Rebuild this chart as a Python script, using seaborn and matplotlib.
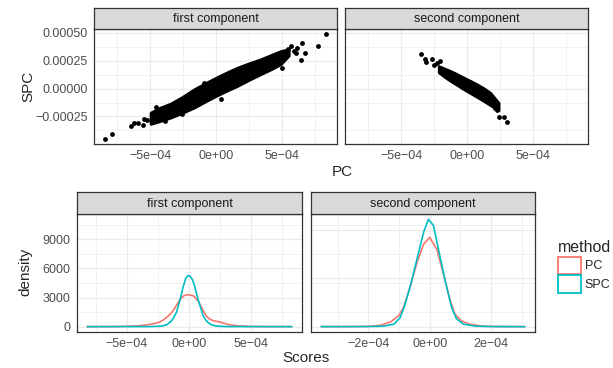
import numpy as np
import pandas as pd
import seaborn as sns
import matplotlib.pyplot as plt
from matplotlib.patches import Patch

# ---- scatter data (PC vs SPC) ----
# first component: outlying points
pc1_x = [-8.41e-4, -7.85e-4, -6.46e-4, -6.21e-4, -5.88e-4, -5.53e-4, -5.45e-4, -5.20e-4,
         -4.57e-4, -2.55e-4, 0.36e-4, 5.02e-4, 5.66e-4, 5.90e-4, 6.16e-4, 6.54e-4,
         6.74e-4, 6.41e-4, 7.75e-4, 8.33e-4, 6.05e-4, 5.45e-4, -0.91e-4, -3.90e-4]
spc1_y = [-4.50e-4, -4.10e-4, -3.36e-4, -3.12e-4, -3.06e-4, -3.30e-4, -2.70e-4, -2.85e-4,
          -1.62e-4, -2.31e-4, -0.96e-4, 1.83e-4, 3.84e-4, 3.39e-4, 3.63e-4, 4.05e-4,
          3.24e-4, 2.58e-4, 3.78e-4, 4.88e-4, 3.20e-4, 3.55e-4, 0.54e-4, -2.95e-4]
# first component: dense band (upper / lower edge)
band1_x = [-4.95e-4, -4.30e-4, -3.43e-4, -2.50e-4, -1.67e-4, -0.80e-4, 0.0, 0.80e-4,
           1.62e-4, 2.50e-4, 3.38e-4, 4.20e-4, 4.90e-4, 5.50e-4]
band1_hi = [-2.16e-4, -1.75e-4, -1.35e-4, -0.72e-4, -0.08e-4, 0.48e-4, 0.97e-4, 1.43e-4,
            1.87e-4, 2.26e-4, 2.62e-4, 3.02e-4, 3.36e-4, 3.52e-4]
band1_lo = [-3.15e-4, -2.92e-4, -2.58e-4, -2.13e-4, -1.69e-4, -1.13e-4, -0.64e-4, -0.18e-4,
            0.26e-4, 0.80e-4, 1.31e-4, 1.77e-4, 2.21e-4, 2.97e-4]

# second component: outlying points
pc2_x = [-3.51e-4, -3.19e-4, -3.08e-4, -2.63e-4, -2.51e-4, -2.26e-4, -2.08e-4,
         2.13e-4, 2.43e-4, 2.80e-4, 3.05e-4, 1.50e-4, 2.25e-4]
spc2_y = [3.08e-4, 2.64e-4, 2.43e-4, 2.70e-4, 2.13e-4, 2.34e-4, 2.48e-4,
          -1.71e-4, -2.55e-4, -2.55e-4, -2.97e-4, -0.36e-4, -1.95e-4]
# second component: dense band
band2_x = [-2.13e-4, -1.70e-4, -1.26e-4, -0.75e-4, -0.25e-4, 0.25e-4, 0.75e-4, 1.25e-4,
           1.75e-4, 2.38e-4]
band2_hi = [2.00e-4, 1.78e-4, 1.57e-4, 1.28e-4, 0.97e-4, 0.68e-4, 0.37e-4, 0.03e-4,
            -0.38e-4, -1.28e-4]
band2_lo = [1.46e-4, 1.07e-4, 0.71e-4, 0.34e-4, -0.04e-4, -0.38e-4, -0.73e-4, -1.08e-4,
            -1.45e-4, -1.93e-4]

# ---- density curves of the scores ----
d1_pc_x = [-8.2e-4, -6e-4, -4.8e-4, -4e-4, -3.4e-4, -2.9e-4, -2.47e-4, -2.1e-4, -1.8e-4,
           -1.5e-4, -1.27e-4, -1.0e-4, -0.73e-4, -0.4e-4, 0.0, 0.4e-4, 0.75e-4, 1.0e-4,
           1.15e-4, 1.4e-4, 1.69e-4, 2.0e-4, 2.5e-4, 2.9e-4, 3.3e-4, 4.0e-4, 4.8e-4, 6e-4, 8.3e-4]
d1_pc_y = [0, 10, 40, 90, 180, 290, 420, 650, 950, 1300, 1650, 2200, 2780, 3200, 3300,
           3150, 2650, 2050, 1650, 1100, 770, 600, 480, 320, 180, 80, 30, 8, 0]
d1_spc_x = [-8.2e-4, -3e-4, -2.2e-4, -1.8e-4, -1.6e-4, -1.4e-4, -1.2e-4, -1.0e-4, -0.73e-4,
            -0.46e-4, -0.25e-4, -0.05e-4, 0.1e-4, 0.3e-4, 0.48e-4, 0.7e-4, 0.89e-4, 1.15e-4,
            1.35e-4, 1.56e-4, 1.8e-4, 2.2e-4, 3e-4, 8.3e-4]
d1_spc_y = [0, 10, 60, 180, 380, 600, 1000, 1474, 2706, 4100, 5000, 5265, 5200, 4800,
            4107, 3000, 2180, 1127, 700, 420, 200, 60, 10, 0]
d2_pc_x = [-3.54e-4, -2.5e-4, -2e-4, -1.6e-4, -1.28e-4, -1.01e-4, -0.85e-4, -0.64e-4,
           -0.42e-4, -0.2e-4, 0.0, 0.23e-4, 0.44e-4, 0.65e-4, 0.82e-4, 1.03e-4, 1.3e-4,
           1.73e-4, 2.2e-4, 3.1e-4]
d2_pc_y = [0, 10, 30, 140, 490, 1125, 2000, 4110, 6570, 8500, 9200, 7970, 5520, 2880,
           1300, 600, 250, 50, 10, 0]
d2_spc_x = [-3.54e-4, -2e-4, -1.5e-4, -1.17e-4, -0.96e-4, -0.8e-4, -0.64e-4, -0.42e-4,
            -0.2e-4, -0.045e-4, 0.12e-4, 0.33e-4, 0.55e-4, 0.71e-4, 0.87e-4, 1.1e-4,
            1.5e-4, 2e-4, 3.1e-4]
d2_spc_y = [0, 10, 50, 250, 950, 2360, 4110, 6920, 9730, 11060, 10430, 7270, 4110,
            2000, 810, 250, 50, 10, 0]

components = ["first component", "second component"]
methods = ["PC", "SPC"]
colors = {"PC": "#F8766D", "SPC": "#00BFC4"}

# tick positions / labels
top_xt = [-5e-4, 0, 5e-4]
top_xl = ["\u22125e\u221204", "0e+00", "5e\u221204"]
top_yt = [-2.5e-4, 0, 2.5e-4, 5e-4]
top_yl = ["\u22120.00025", "0.00000", "0.00025", "0.00050"]
bot_yt = [0, 3000, 6000, 9000]
bot_yl = ["0", "3000", "6000", "9000"]
b1_xt = [-5e-4, 0, 5e-4]
b1_xl = ["\u22125e\u221204", "0e+00", "5e\u221204"]
b2_xt = [-2e-4, 0, 2e-4]
b2_xl = ["\u22122e\u221204", "0e+00", "2e\u221204"]

dens = pd.concat([
    pd.DataFrame({"Scores": d1_pc_x, "density": d1_pc_y, "method": "PC", "component": components[0]}),
    pd.DataFrame({"Scores": d1_spc_x, "density": d1_spc_y, "method": "SPC", "component": components[0]}),
    pd.DataFrame({"Scores": d2_pc_x, "density": d2_pc_y, "method": "PC", "component": components[1]}),
    pd.DataFrame({"Scores": d2_spc_x, "density": d2_spc_y, "method": "SPC", "component": components[1]}),
], ignore_index=True)

sns.set_theme(style="white")
plt.rcParams["font.family"] = ["Liberation Sans", "DejaVu Sans"]

W, H = 613, 368
fig = plt.figure(figsize=(W / 100, H / 100), dpi=100)


def box(x0, x1, y0, y1):
    # pixel box (from top-left) -> figure fraction
    return [x0 / W, 1 - y1 / H, (x1 - x0) / W, (y1 - y0) / H]


def strip(x0, x1, y0, y1, label):
    s = fig.add_axes(box(x0, x1, y0, y1))
    s.set_facecolor("#D9D9D9")
    s.set_xticks([])
    s.set_yticks([])
    for sp in s.spines.values():
        sp.set_color("#333333")
        sp.set_linewidth(0.9)
    s.text(0.5, 0.47, label, ha="center", va="center", fontsize=9, color="#1A1A1A",
           transform=s.transAxes)


def style(ax, xt, xl, yt=None, yl=None, xminor=(), yminor=()):
    ax.set_facecolor("white")
    ax.set_xticks(xt)
    ax.set_xticklabels(xl)
    ax.set_xticks(list(xminor), minor=True)
    if yt is not None:
        ax.set_yticks(yt)
        ax.set_yticklabels(yl)
        ax.tick_params(axis="y", length=3, width=0.8, color="#333333")
    else:
        ax.tick_params(axis="y", length=0, labelleft=False)
    ax.set_yticks(list(yminor), minor=True)
    ax.tick_params(which="major", labelsize=9, labelcolor="#4D4D4D", pad=1.5)
    ax.tick_params(axis="x", which="major", length=3, width=0.8, color="#333333")
    ax.tick_params(which="minor", length=0)
    ax.grid(which="major", color="#EBEBEB", lw=0.9)
    ax.grid(which="minor", color="#EBEBEB", lw=0.5)
    ax.set_axisbelow(True)
    for sp in ax.spines.values():
        sp.set_color("#333333")
        sp.set_linewidth(0.9)
        sp.set_visible(True)
    ax.set_xlabel("")
    ax.set_ylabel("")


def pad_lim(lo, hi):
    p = 0.05 * (hi - lo)
    return lo - p, hi + p


# ---- top: scatter facets ----
allx = pc1_x + pc2_x + band1_x + band2_x
ally = spc1_y + spc2_y + band1_hi + band1_lo + band2_hi + band2_lo
txlim = pad_lim(min(allx), max(allx))
tylim = pad_lim(min(ally), max(ally))

scat = [(pc1_x, spc1_y, band1_x, band1_hi, band1_lo), (pc2_x, spc2_y, band2_x, band2_hi, band2_lo)]
top_boxes = [(94, 337), (345, 588)]
for i, (px, py, bx, bh, bl) in enumerate(scat):
    x0, x1 = top_boxes[i]
    ax = fig.add_axes(box(x0, x1, 29, 144))
    ax.fill_between(bx, bl, bh, color="black", lw=2.2, edgecolor="black", joinstyle="round",
                    capstyle="round")
    sns.scatterplot(x=px, y=py, color="black", s=12, linewidth=0, ax=ax)
    ax.set_xlim(txlim)
    ax.set_ylim(tylim)
    style(ax, top_xt, top_xl, top_yt if i == 0 else None, top_yl if i == 0 else None,
          xminor=(-7.5e-4, -2.5e-4, 2.5e-4, 7.5e-4),
          yminor=(-3.75e-4, -1.25e-4, 1.25e-4, 3.75e-4))
    strip(x0, x1, 8, 29, components[i])

fig.text(28 / W, 1 - 86 / H, "SPC", rotation=90, ha="center", va="center", fontsize=11)
fig.text(342 / W, 1 - 172 / H, "PC", ha="center", va="center", fontsize=11)

# ---- bottom: density facets ----
bylim = pad_lim(dens["density"].min(), dens["density"].max())
bot_boxes = [(77, 302), (311, 535)]
bot_ticks = [(b1_xt, b1_xl, (-7.5e-4, -2.5e-4, 2.5e-4, 7.5e-4)),
             (b2_xt, b2_xl, (-3e-4, -1e-4, 1e-4, 3e-4))]
for i, comp in enumerate(components):
    x0, x1 = bot_boxes[i]
    ax = fig.add_axes(box(x0, x1, 214, 332))
    sub = dens[dens["component"] == comp]
    sns.lineplot(data=sub, x="Scores", y="density", hue="method", hue_order=methods,
                 palette=colors, lw=1.2, legend=False, ax=ax, estimator=None)
    ax.set_xlim(pad_lim(sub["Scores"].min(), sub["Scores"].max()))
    ax.set_ylim(bylim)
    xt, xl, xm = bot_ticks[i]
    style(ax, xt, xl, bot_yt if i == 0 else None, bot_yl if i == 0 else None,
          xminor=xm, yminor=(1500, 4500, 7500, 10500))
    strip(x0, x1, 192, 214, comp)

fig.text(25 / W, 1 - 272 / H, "density", rotation=90, ha="center", va="center", fontsize=11)
fig.text(306 / W, 1 - 358 / H, "Scores", ha="center", va="center", fontsize=11)

handles = [Patch(facecolor="white", edgecolor=colors[m], lw=1.3, label=m) for m in methods]
fig.legend(handles=handles, title="method", loc="upper left",
           bbox_to_anchor=(558 / W, 1 - 240 / H), frameon=False, fontsize=9,
           title_fontsize=11.5, alignment="left", handlelength=1.8, handleheight=1.75,
           handletextpad=0.35, labelspacing=0.12, borderpad=0, borderaxespad=0)

fig.savefig("out.png", dpi=100)
